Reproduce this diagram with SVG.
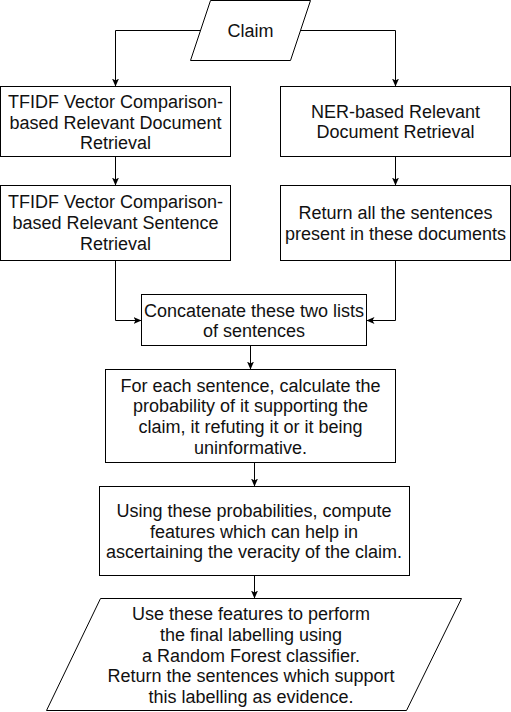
<svg xmlns="http://www.w3.org/2000/svg" width="511" height="712" viewBox="0 0 511 712">
<style>
.n{fill:#fff;stroke:#000;stroke-width:1}
.t{font-family:"Liberation Sans",Arial,Helvetica,sans-serif;font-size:18px;fill:#111;text-anchor:middle}
.c{fill:none;stroke:#000;stroke-width:1}
</style>
<defs>
<marker id="ar" markerUnits="userSpaceOnUse" viewBox="0 0 8 7" refX="8" refY="3.5" markerWidth="8" markerHeight="7" orient="auto">
<path d="M0,0 L8,3.5 L0,7 L2,3.5 z" fill="#000"/>
</marker>
</defs>
<rect width="511" height="712" fill="#fff"/>
<g id="connectors">
<path class="c" d="M200.5,30.5 H115.5 V86.5" marker-end="url(#ar)"/>
<path class="c" d="M300.5,30.5 H395.5 V86.5" marker-end="url(#ar)"/>
<path class="c" d="M115.5,156.5 V185.5" marker-end="url(#ar)"/>
<path class="c" d="M395.5,156.5 V185.5" marker-end="url(#ar)"/>
<path class="c" d="M115.5,260.5 V320.5 H141.5" marker-end="url(#ar)"/>
<path class="c" d="M395.5,260.5 V320.5 H366.5" marker-end="url(#ar)"/>
<path class="c" d="M250.5,345.5 V369.5" marker-end="url(#ar)"/>
<path class="c" d="M254.5,462.5 V486.5" marker-end="url(#ar)"/>
<path class="c" d="M254.5,575.5 V598.5" marker-end="url(#ar)"/>
</g>
<g id="claim">
<polygon class="n" points="210.5,0.5 310.5,0.5 290.5,60.5 190.5,60.5"/>
<text class="t" x="250.5" y="37">Claim</text>
</g>
<g id="tfidf-doc">
<rect class="n" x="0.5" y="86.5" width="230" height="70"/>
<text class="t" x="115.5" y="107.5">TFIDF Vector Comparison-</text>
<text class="t" x="115.5" y="128.5">based Relevant Document</text>
<text class="t" x="115.5" y="149">Retrieval</text>
</g>
<g id="ner-doc">
<rect class="n" x="280.5" y="86.5" width="230" height="70"/>
<text class="t" x="395.5" y="117.5">NER-based Relevant</text>
<text class="t" x="395.5" y="138">Document Retrieval</text>
</g>
<g id="tfidf-sent">
<rect class="n" x="0.5" y="185.5" width="230" height="75"/>
<text class="t" x="115.5" y="208">TFIDF Vector Comparison-</text>
<text class="t" x="115.5" y="229">based Relevant Sentence</text>
<text class="t" x="115.5" y="250">Retrieval</text>
</g>
<g id="ner-sent">
<rect class="n" x="280.5" y="185.5" width="230" height="75"/>
<text class="t" x="395.5" y="219">Return all the sentences</text>
<text class="t" x="395.5" y="240">present in these documents</text>
</g>
<g id="concat">
<rect class="n" x="141.5" y="294.5" width="225" height="51"/>
<text class="t" x="254" y="316.5">Concatenate these two lists</text>
<text class="t" x="254" y="337">of sentences</text>
</g>
<g id="prob">
<rect class="n" x="105.5" y="369.5" width="290" height="93"/>
<text class="t" x="250.5" y="391.5">For each sentence, calculate the</text>
<text class="t" x="250.5" y="412">probability of it supporting the</text>
<text class="t" x="250.5" y="433">claim, it refuting it or it being</text>
<text class="t" x="250.5" y="454">uninformative.</text>
</g>
<g id="features">
<rect class="n" x="99.5" y="486.5" width="310" height="89"/>
<text class="t" x="254" y="516.5">Using these probabilities, compute</text>
<text class="t" x="254" y="537.5">features which can help in</text>
<text class="t" x="254" y="558">ascertaining the veracity of the claim.</text>
</g>
<g id="classify">
<polygon class="n" points="100.5,598.5 461.5,598.5 406.5,710.5 46.5,710.5"/>
<text class="t" x="251" y="620">Use these features to perform</text>
<text class="t" x="251" y="640.5">the final labelling using</text>
<text class="t" x="251" y="661.5">a Random Forest classifier.</text>
<text class="t" x="251" y="682">Return the sentences which support</text>
<text class="t" x="251" y="703">this labelling as evidence.</text>
</g>
</svg>
